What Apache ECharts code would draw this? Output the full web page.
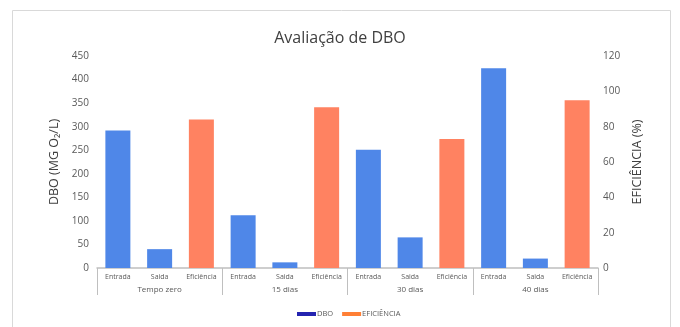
<!DOCTYPE html>
<html><head><meta charset="utf-8">
<script src="https://cdn.jsdelivr.net/npm/echarts@6/dist/echarts.min.js"></script>
<style>html,body{margin:0;padding:0;background:#fff}#c{width:680px;height:327px}</style>
</head><body><div id="c"></div>
<script>
var groups = ['Tempo zero', '15 dias', '30 dias', '40 dias'];
var subCats = ['Entrada', 'Saida', 'Eficiência'];
var dboEntrada = [292, 112, 251, 424];
var dboSaida = [40, 12, 65, 20];
var eficiencia = [84, 91, 73, 95];
var leftTicks = {min: 0, max: 450, interval: 50};
var rightTicks = {min: 0, max: 120, interval: 20};

var cats = [], dboData = [], efData = [];
groups.forEach(function (g, i) {
  subCats.forEach(function (s) { cats.push(s); });
  dboData.push(dboEntrada[i], dboSaida[i], '-');
  efData.push('-', '-', eficiencia[i]);
});

var font = 'Open Sans';
var chart = echarts.init(document.getElementById('c'));
chart.setOption({
  animation: false,
  textStyle: {fontFamily: font},
  title: {text: 'Avaliação de DBO', left: 'center', top: 25,
    textStyle: {fontFamily: font, fontSize: 16, fontWeight: 'normal', color: '#404040'}},
  graphic: [{type: 'rect', shape: {x: 12.5, y: 10.5, width: 658, height: 330},
    style: {fill: 'none', stroke: '#d9d9d9', lineWidth: 1}, silent: true}],
  grid: {left: 97, right: 82, top: 56, bottom: 59},
  legend: {bottom: 4, left: 292, itemWidth: 19, itemHeight: 4, itemGap: 9, icon: 'rect',
    textStyle: {fontSize: 7.5, color: '#595959', padding: [0, 0, 0, -4]},
    data: [{name: 'DBO', itemStyle: {color: '#2424b0'}},
           {name: 'EFICIÊNCIA', itemStyle: {color: '#ff7f35'}}]},
  xAxis: [{
    type: 'category', data: cats, position: 'bottom',
    axisLine: {lineStyle: {color: '#bfbfbf', width: 1.5}},
    axisTick: {show: false},
    axisLabel: {interval: 0, fontSize: 7, color: '#595959', margin: 5}
  }, {
    type: 'category', data: groups, position: 'bottom',
    axisLine: {show: false},
    axisTick: {show: true, length: 27, interval: 0, lineStyle: {color: '#bfbfbf'}},
    axisLabel: {interval: 0, fontSize: 8, color: '#595959', margin: 18}
  }],
  yAxis: [{
    type: 'value', min: leftTicks.min, max: leftTicks.max, interval: leftTicks.interval,
    name: 'DBO (MG O₂/L)', nameLocation: 'middle', nameGap: 30,
    nameTextStyle: {fontSize: 12.5, color: '#404040'},
    axisLine: {show: false}, axisTick: {show: false}, splitLine: {show: false},
    axisLabel: {fontSize: 10, color: '#595959', margin: 8}
  }, {
    type: 'value', min: rightTicks.min, max: rightTicks.max, interval: rightTicks.interval,
    name: 'EFICIÊNCIA (%)', nameLocation: 'middle', nameGap: 27, nameRotate: 90,
    nameTextStyle: {fontSize: 12.5, color: '#404040'},
    axisLine: {show: false}, axisTick: {show: false}, splitLine: {show: false},
    axisLabel: {fontSize: 10, color: '#595959', margin: 5}
  }],
  series: [{
    name: 'DBO', type: 'bar', data: dboData, barWidth: 25, barGap: '-100%',
    itemStyle: {color: '#4f87e8'}
  }, {
    name: 'EFICIÊNCIA', type: 'bar', yAxisIndex: 1, data: efData, barWidth: 25,
    itemStyle: {color: '#ff8261'}
  }]
});
</script></body></html>
